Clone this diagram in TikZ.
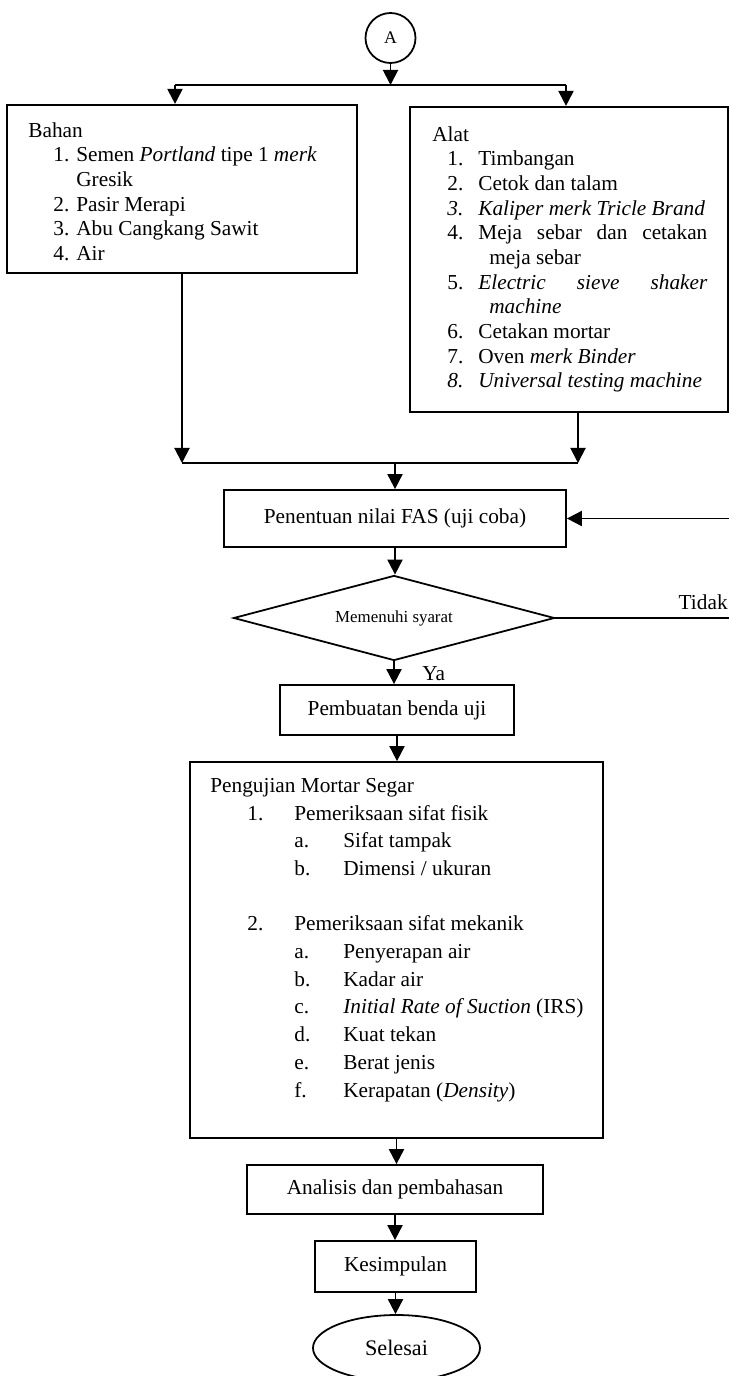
\documentclass[tikz,border=0pt]{standalone}
\usepackage{fontspec}
\setmainfont{Liberation Serif}
\usetikzlibrary{arrows.meta,shapes.geometric,positioning,calc}
\newdimen\pxu \pxu=0.5634pt
\newcommand{\lst}[3]{\hspace*{#1\pxu}\makebox[#2\pxu][l]{#3}}

\begin{document}
\begin{tikzpicture}[x=0.5634pt, y=-0.5634pt,
    sz/.style 2 args={minimum width=#1*0.5634pt, minimum height=#2*0.5634pt},
    mybox/.style={draw, line width=1pt, inner sep=0pt, font=\fontsize{12}{13.9}\selectfont},
    mybigbox/.style={mybox, line width=1.2pt},
    mytext/.style={inner sep=0pt, align=left, anchor=north west, font=\fontsize{12}{13.9}\selectfont},
    myline/.style={line width=1.1pt},
    myarrow/.style={myline, -{Triangle[length=8.5pt, width=8.5pt]}}]
    \useasboundingbox (0,0) rectangle (729,1376);
    \node[circle, draw, line width=1pt, minimum size=50*0.5634pt, inner sep=0pt, font=\fontsize{10}{12}\selectfont] (a) at (390.5,38) {A};
    \node[mybigbox, sz={350}{168}] (bahan) at (182,189) {};
    \node[mybigbox, sz={318}{305}] (alat) at (569,259.5) {};
    \node[mytext] (bahantxt) at (28,122) {Bahan\\
      \lst{25}{23}{1.}Semen \textit{Portland} tipe 1 \textit{merk}\\
      \hspace*{48\pxu}Gresik\\
      \lst{25}{23}{2.}Pasir Merapi\\
      \lst{25}{23}{3.}Abu Cangkang Sawit\\
      \lst{25}{23}{4.}Air};
    \node[mytext] (alattxt) at (432,126) {Alat\\
      \lst{15}{31}{1.}Timbangan\\
      \lst{15}{31}{2.}Cetok dan talam\\
      \lst{15}{31}{\textit{3.}}\textit{Kaliper merk Tricle Brand}\\
      \lst{15}{31}{4.}\makebox[229\pxu][s]{Meja sebar dan cetakan}\\
      \hspace*{57\pxu}meja sebar\\
      \lst{15}{31}{5.}\textit{\makebox[229\pxu][s]{Electric sieve shaker}}\\
      \hspace*{57\pxu}\textit{machine}\\
      \lst{15}{31}{6.}Cetakan mortar\\
      \lst{15}{31}{7.}Oven \textit{merk Binder}\\
      \lst{15}{31}{\textit{8.}}\textit{Universal testing machine}};
    \node[mybox, sz={342}{57}] (pen) at (395,518.5) {Penentuan nilai FAS (uji coba)};
    \node[diamond, draw, line width=1pt, aspect=3.8, sz={321}{85}, inner sep=0pt, font=\fontsize{9.5}{11}\selectfont] (dia) at (394,618) {Memenuhi syarat};
    \node[mybox, sz={234}{50}] (pem) at (397,710) {Pembuatan benda uji};
    \node[mybox, sz={413}{376}] (uji) at (396.5,950) {};
    \node[mytext, font=\fontsize{12}{15.6}\selectfont] (ujitxt) at (210,778) {Pengujian Mortar Segar\\
      \lst{37}{47}{1.}Pemeriksaan sifat fisik\\
      \lst{84}{49}{a.}Sifat tampak\\
      \lst{84}{49}{b.}Dimensi / ukuran\\
      \mbox{}\\
      \lst{37}{47}{2.}Pemeriksaan sifat mekanik\\
      \lst{84}{49}{a.}Penyerapan air\\
      \lst{84}{49}{b.}Kadar air\\
      \lst{84}{49}{c.}\textit{Initial Rate of Suction} (IRS)\\
      \lst{84}{49}{d.}Kuat tekan\\
      \lst{84}{49}{e.}Berat jenis\\
      \lst{84}{49}{f.}Kerapatan (\textit{Density})};
    \node[mybox, sz={296}{49}] (ana) at (395,1189.5) {Analisis dan pembahasan};
    \node[mybox, sz={161}{51}] (kes) at (395.5,1266.5) {Kesimpulan};
    \node[ellipse, draw, line width=1pt, sz={167}{66}, inner sep=0pt, font=\fontsize{12.5}{14}\selectfont] (sel) at (396.5,1348) {Selesai};
    \node[inner sep=0pt, anchor=base east, font=\fontsize{12}{14}\selectfont] (tidak) at (728,609) {Tidak};
    \node[inner sep=0pt, anchor=base west, font=\fontsize{12}{14}\selectfont] (ya) at (422,680) {Ya};
    \coordinate (sl) at (175,85);
    \coordinate (sr) at (566,85);
    \coordinate (jl) at (182,463);
    \coordinate (jr) at (578,463);
    \draw[myarrow] (a.south) -- (a.south |- sl);
    \draw[myline] (sl) -- (sr);
    \draw[myarrow] (sl) -- (sl |- bahan.north);
    \draw[myarrow] (sr) -- (sr |- alat.north);
    \draw[myarrow] (bahan.south) -- (jl);
    \draw[myarrow] (jr |- alat.south) -- (jr);
    \draw[myline] (jl) -- (jr);
    \draw[myarrow] (pen.north |- jl) -- (pen.north);
    \draw[myarrow] (pen.south) -- (pen.south |- dia.north);
    \draw[myarrow] (dia.east) -- ++(200,0) |- (pen.east);
    \draw[myarrow] (dia.south) -- (dia.south |- pem.north);
    \draw[myarrow] (pem.south) -- (pem.south |- uji.north);
    \draw[myarrow] (uji.south) -- (uji.south |- ana.north);
    \draw[myarrow] (ana.south) -- (ana.south |- kes.north);
    \draw[myarrow] (kes.south) -- (kes.south |- sel.north);
\end{tikzpicture}
\end{document}
